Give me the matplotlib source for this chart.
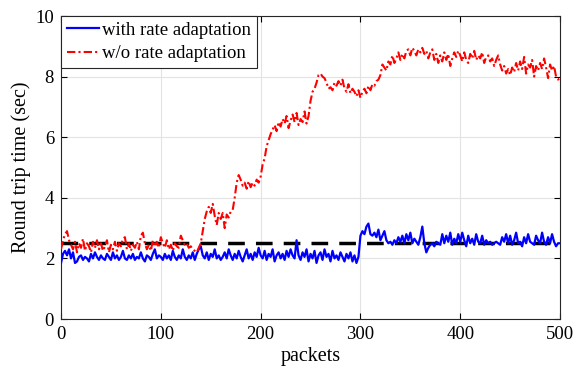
import numpy as np
import matplotlib
matplotlib.use("Agg")
import matplotlib.pyplot as plt

plt.rcParams['font.family'] = ['Liberation Serif', 'DejaVu Serif']

packets = np.arange(0, 501, 2)

rtt_with_adapt = [
    1.85, 2.15, 2.25, 2.1, 2.3, 2.0, 2.2, 1.85, 1.9, 2.05,
    2.1, 1.95, 2.05, 2.0, 1.9, 2.15, 2.0, 2.2, 2.05, 1.95,
    2.1, 2.0, 1.95, 2.15, 2.05, 1.95, 2.2, 2.0, 2.1, 1.95,
    2.05, 2.25, 2.0, 1.95, 2.1, 2.0, 2.15, 1.95, 2.05, 2.0,
    2.2, 2.0, 1.9, 2.1, 2.05, 1.95, 2.15, 2.3, 2.0, 2.1,
    2.05, 1.95, 2.15, 2.0, 2.1, 1.95, 2.25, 2.05, 1.95, 2.1,
    2.0, 2.3, 2.05, 1.95, 2.1, 2.0, 2.2, 1.95, 2.15, 2.3,
    2.4, 2.1, 2.0, 2.2, 1.95, 2.15, 2.05, 2.3, 2.0, 2.1,
    1.95, 2.05, 2.2, 2.0, 2.3, 2.1, 1.95, 2.15, 2.0, 2.25,
    2.05, 1.9, 2.1, 2.3, 2.0, 2.15, 1.95, 2.2, 2.05, 2.35,
    2.1, 2.0, 2.25, 1.95, 2.15, 2.05, 2.3, 1.9, 2.1, 2.2,
    2.0, 2.15, 1.95, 2.25, 2.05, 2.3, 2.1, 2.0, 2.6, 2.1,
    1.95, 2.2, 2.05, 2.3, 1.9, 2.15, 2.0, 2.25, 1.85, 2.1,
    2.2, 1.95, 2.3, 2.05, 2.15, 1.9, 2.25, 2.0, 2.1, 1.95,
    2.2, 2.05, 1.9, 2.15, 2.0, 2.2, 1.9, 2.1, 1.85, 2.05,
    2.75, 2.9, 2.8, 3.05, 3.15, 2.8, 2.75, 2.85, 2.7, 2.95,
    2.6, 2.75, 2.9, 2.6, 2.5, 2.55, 2.45, 2.6, 2.5, 2.7,
    2.55, 2.75, 2.5, 2.8, 2.6, 2.85, 2.5, 2.65, 2.55, 2.45,
    2.7, 3.05, 2.5, 2.2, 2.35, 2.45, 2.5, 2.4, 2.55, 2.5,
    2.45, 2.8, 2.5, 2.75, 2.55, 2.85, 2.45, 2.65, 2.5, 2.8,
    2.55, 2.85, 2.6, 2.4, 2.75, 2.5, 2.65, 2.45, 2.8, 2.55,
    2.5, 2.75, 2.45, 2.6, 2.5, 2.55, 2.45, 2.5, 2.55, 2.5,
    2.45, 2.7, 2.55, 2.8, 2.5, 2.75, 2.45, 2.6, 2.85, 2.5,
    2.55, 2.4, 2.7, 2.5, 2.8, 2.55, 2.5, 2.45, 2.75, 2.6,
    2.5, 2.85, 2.55, 2.45, 2.7, 2.5, 2.8, 2.55, 2.4, 2.5,
    2.5,
]

rtt_without_adapt = [
    2.3, 2.6, 2.8, 2.9, 2.6, 2.45, 2.3, 2.55, 2.2, 2.5,
    2.35, 2.65, 2.25, 2.5, 2.4, 2.2, 2.55, 2.35, 2.6, 2.3,
    2.5, 2.25, 2.4, 2.6, 2.2, 2.45, 2.3, 2.55, 2.25, 2.5,
    2.4, 2.65, 2.7, 2.3, 2.5, 2.25, 2.45, 2.35, 2.55, 2.3,
    2.75, 2.85, 2.5, 2.3, 2.45, 2.25, 2.6, 2.4, 2.55, 2.35,
    2.7, 2.5, 2.35, 2.6, 2.3, 2.45, 2.25, 2.5, 2.4, 2.35,
    2.75, 2.6, 2.45, 2.5, 2.35, 2.4, 2.3, 2.25, 2.2, 2.35,
    2.5, 2.9, 3.3, 3.55, 3.7, 3.5, 3.8, 3.4, 3.1, 3.5,
    3.3, 3.5, 3.0, 3.45, 3.35, 3.55, 3.6, 4.0, 4.5, 4.75,
    4.6, 4.4, 4.5, 4.3, 4.55, 4.35, 4.5, 4.4, 4.6, 4.5,
    4.7, 5.1, 5.3, 5.7, 5.9, 6.1, 6.25, 6.4, 6.2, 6.5,
    6.35, 6.6, 6.45, 6.7, 6.3, 6.55, 6.75, 6.5, 6.8, 6.4,
    6.6, 6.5, 6.85, 6.45, 6.7, 7.2, 7.5, 7.6, 7.8, 8.05,
    8.1, 8.0, 7.95, 7.8, 7.6, 7.65, 7.55, 7.8, 7.7, 7.85,
    7.7, 7.9, 7.6, 7.5, 7.75, 7.45, 7.6, 7.5, 7.35, 7.55,
    7.3, 7.5, 7.6, 7.45, 7.7, 7.55, 7.75, 7.7, 7.85, 7.9,
    8.05, 8.4, 8.3, 8.2, 8.5, 8.4, 8.7, 8.45, 8.6, 8.8,
    8.55, 8.75, 8.6, 8.85, 8.9, 8.7, 8.95, 8.85, 8.7, 8.9,
    8.8, 8.95, 8.75, 8.85, 8.6, 8.8, 8.9, 8.55, 8.75, 8.45,
    8.7, 8.5, 8.8, 8.55, 8.75, 8.35, 8.6, 8.8, 8.65, 8.85,
    8.7, 8.5, 8.8, 8.55, 8.45, 8.75, 8.6, 8.85, 8.55, 8.7,
    8.6, 8.8, 8.45, 8.65, 8.7, 8.5, 8.6, 8.35, 8.55, 8.7,
    8.4, 8.2, 8.35, 8.1, 8.25, 8.05, 8.3, 8.15, 8.45, 8.2,
    8.5, 8.25, 8.65, 8.1, 8.4, 8.3, 8.55, 8.0, 8.35, 8.2,
    8.45, 8.25, 8.6, 8.3, 7.95, 8.4, 8.2, 8.35, 8.0, 7.9,
    7.95,
]

target_rtt = 2.5
x_ticks = [0, 100, 200, 300, 400, 500]
y_ticks = [0, 2, 4, 6, 8, 10]

fig = plt.figure(figsize=(5.84, 3.75), dpi=100)
ax = fig.add_axes([0.1045, 0.1493, 0.8545, 0.808])

ax.plot(packets, rtt_with_adapt, color='#0000ff', lw=1.6, label='with rate adaptation', zorder=3)
ax.plot(packets, rtt_without_adapt, color='#ff0000', lw=1.5, ls=(0, (4, 1.5, 1, 1.5)),
        label='w/o rate adaptation', zorder=3)
ax.axhline(target_rtt, color='black', lw=2.5, ls=(0, (4.8, 3.2)), zorder=2)

ax.set_xlim(0, 500)
ax.set_ylim(0, 10)
ax.set_xticks(x_ticks)
ax.set_yticks(y_ticks)
ax.grid(True, color='#e3e3e3', lw=0.8)
ax.set_axisbelow(True)
ax.tick_params(direction='in', top=True, right=True, labelsize=13.5, length=4, width=0.8, pad=5)
for s in ax.spines.values():
    s.set_linewidth(0.8)
    s.set_color('#262626')

ax.set_xlabel('packets', fontsize=14.5, labelpad=3)
ax.set_ylabel('Round trip time (sec)', fontsize=14.5, labelpad=3)

leg = ax.legend(loc='upper left', fontsize=13.5, frameon=True, fancybox=False, framealpha=1,
                edgecolor='#262626', borderaxespad=0, handlelength=1.7, handletextpad=0.2,
                borderpad=0.3, labelspacing=0.35)
leg.get_frame().set_linewidth(0.8)

fig.savefig('out.png', dpi=100)
